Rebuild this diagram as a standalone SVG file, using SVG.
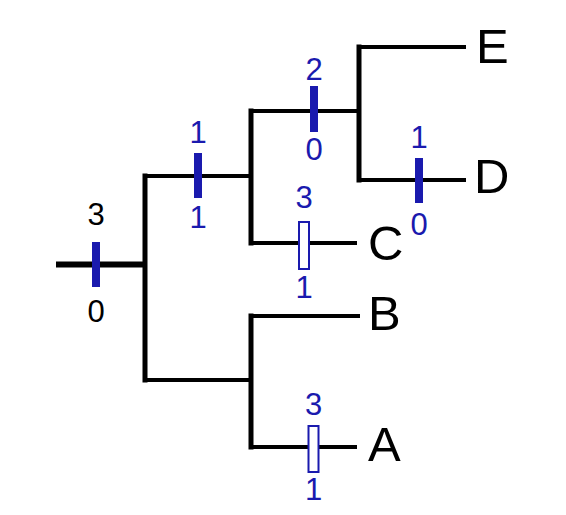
<svg xmlns="http://www.w3.org/2000/svg" width="566" height="515" viewBox="0 0 566 515">
<style>
.ln{stroke:#000;stroke-width:4;fill:none;stroke-linecap:square}
.vt{stroke:#000;stroke-width:5;fill:none;stroke-linecap:square}
.bar{fill:#1a1aae}
.obar{fill:#fff;stroke:#1a1aae;stroke-width:2}
.tx{font-family:"Liberation Sans",Arial,sans-serif;font-size:49px;fill:#000}
.num{font-family:"Liberation Sans",Arial,sans-serif;font-size:31px;fill:#1a1aae;text-anchor:middle}
.numk{font-family:"Liberation Sans",Arial,sans-serif;font-size:31px;fill:#000;text-anchor:middle}
</style>
<rect width="566" height="515" fill="#fff"/>
<g id="connectors">
<line class="vt" x1="56" y1="264.5" x2="145" y2="264.5" style="stroke-width:6;stroke-linecap:butt"/>
<line class="vt" x1="145" y1="176" x2="145" y2="380"/>
<line class="ln" x1="145" y1="176" x2="251" y2="176"/>
<line class="ln" x1="145" y1="380" x2="251" y2="380"/>
<line class="vt" x1="251" y1="111" x2="251" y2="243"/>
<line class="ln" x1="251" y1="111" x2="359" y2="111"/>
<line class="ln" x1="251" y1="243" x2="355" y2="243"/>
<line class="vt" x1="359" y1="47" x2="359" y2="180"/>
<line class="ln" x1="359" y1="47" x2="464" y2="47"/>
<line class="ln" x1="359" y1="180" x2="464" y2="180"/>
<line class="vt" x1="251" y1="316" x2="251" y2="447"/>
<line class="ln" x1="251" y1="316" x2="358" y2="316"/>
<line class="ln" x1="251" y1="447" x2="355" y2="447"/>
</g>
<g id="root-bar">
<rect class="bar" x="92" y="242" width="8" height="45"/>
<text class="numk" x="96" y="225">3</text>
<text class="numk" x="96" y="322">0</text>
</g>
<g id="branch-bar">
<rect class="bar" x="194" y="153" width="8" height="45"/>
<text class="num" x="198" y="143">1</text>
<text class="num" x="198" y="228">1</text>
</g>
<g id="upper-bar">
<rect class="bar" x="310" y="86" width="8" height="46"/>
<text class="num" x="314" y="80">2</text>
<text class="num" x="314" y="160">0</text>
</g>
<g id="d-bar">
<rect class="bar" x="415" y="158" width="8" height="45"/>
<text class="num" x="419" y="148">1</text>
<text class="num" x="419" y="235">0</text>
</g>
<g id="c-bar">
<rect class="obar" x="299" y="222" width="10" height="47"/>
<text class="num" x="304" y="208">3</text>
<text class="num" x="304" y="298">1</text>
</g>
<g id="a-bar">
<rect class="obar" x="308.5" y="426" width="10" height="46"/>
<text class="num" x="313.5" y="415">3</text>
<text class="num" x="313.5" y="500">1</text>
</g>
<g id="node-E"><text class="tx" x="476" y="63">E</text></g>
<g id="node-D"><text class="tx" x="474" y="193">D</text></g>
<g id="node-C"><text class="tx" x="368" y="260">C</text></g>
<g id="node-B"><text class="tx" x="368" y="330">B</text></g>
<g id="node-A"><text class="tx" x="368" y="461">A</text></g>
</svg>
